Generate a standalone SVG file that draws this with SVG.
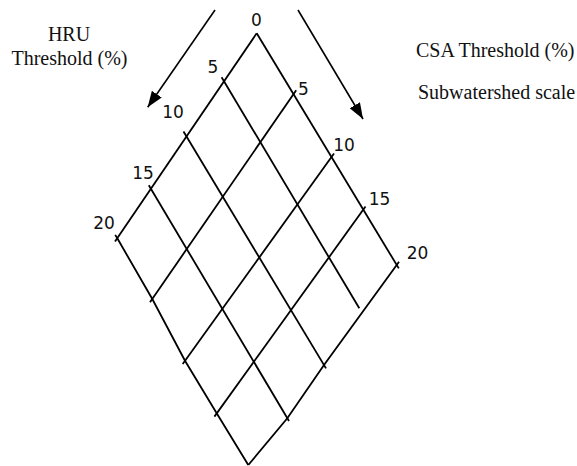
<svg xmlns="http://www.w3.org/2000/svg" width="577" height="466" viewBox="0 0 577 466">
  <style>
    .grid { fill: none; stroke: #000; stroke-width: 1.8; stroke-linecap: butt; stroke-linejoin: miter; }
    .arrow { fill: none; stroke: #000; stroke-width: 1.6; }
    .title { font-family: "Liberation Serif", "Times New Roman", serif; font-size: 20px; fill: #111; }
    .tick { font-family: "DejaVu Sans", "Liberation Sans", sans-serif; font-size: 17px; fill: #111; text-anchor: middle; }
  </style>
  <defs>
    <marker id="head" markerUnits="userSpaceOnUse" markerWidth="16" markerHeight="12" viewBox="0 0 16 12" refX="16" refY="6" orient="auto">
      <path d="M0,0 L16,6 L0,12 Z" fill="#000"/>
    </marker>
  </defs>

  <rect width="577" height="466" fill="#fff"/>

  <!-- axis titles -->
  <g id="hru-title">
    <text class="title" x="69" y="41" text-anchor="middle">HRU</text>
    <text class="title" x="69.5" y="65" text-anchor="middle">Threshold (%)</text>
  </g>
  <g id="csa-title">
    <text class="title" x="416" y="57">CSA Threshold (%)</text>
    <text class="title" x="418" y="99">Subwatershed scale</text>
  </g>

  <!-- direction arrows -->
  <g id="connectors">
    <line class="arrow" x1="215" y1="10" x2="147.7" y2="107.3" marker-end="url(#head)"/>
    <line class="arrow" x1="298" y1="10" x2="363" y2="119" marker-end="url(#head)"/>
  </g>

  <!-- threshold grid -->
  <g id="grid">
    <!-- outer edges -->
    <path class="grid" d="M256.7,33.3 L115,241.6"/>
    <path class="grid" d="M256.7,33.3 L398.8,268.4"/>
    <path class="grid" d="M115.2,234.9 L117.3,238.3 L152.3,299 L185,360.7 L216.7,413.3 L248.3,465"/>
    <path class="grid" d="M399,261.7 L396.7,265 L324,365 L287.3,418.3 L248.3,465"/>
    <!-- HRU steps (down-right) -->
    <path class="grid" d="M221.6,77.2 L359.3,308.3"/>
    <path class="grid" d="M183.5,131.5 L326,368.4"/>
    <path class="grid" d="M148.8,185.2 L289,421"/>
    <!-- CSA steps (down-left) -->
    <path class="grid" d="M296.2,90.2 L150,302.3"/>
    <path class="grid" d="M334,153.5 L182.7,364"/>
    <path class="grid" d="M365.5,206.5 L214.4,416.6"/>
  </g>

  <!-- HRU tick labels -->
  <g id="hru-labels">
    <text class="tick" x="256.5" y="26">0</text>
    <text class="tick" x="213" y="73">5</text>
    <text class="tick" x="173" y="118">10</text>
    <text class="tick" x="143" y="179">15</text>
    <text class="tick" x="104" y="229">20</text>
  </g>
  <!-- CSA tick labels -->
  <g id="csa-labels">
    <text class="tick" x="303.5" y="95">5</text>
    <text class="tick" x="344" y="150.5">10</text>
    <text class="tick" x="379.5" y="205">15</text>
    <text class="tick" x="417.5" y="259">20</text>
  </g>
</svg>
